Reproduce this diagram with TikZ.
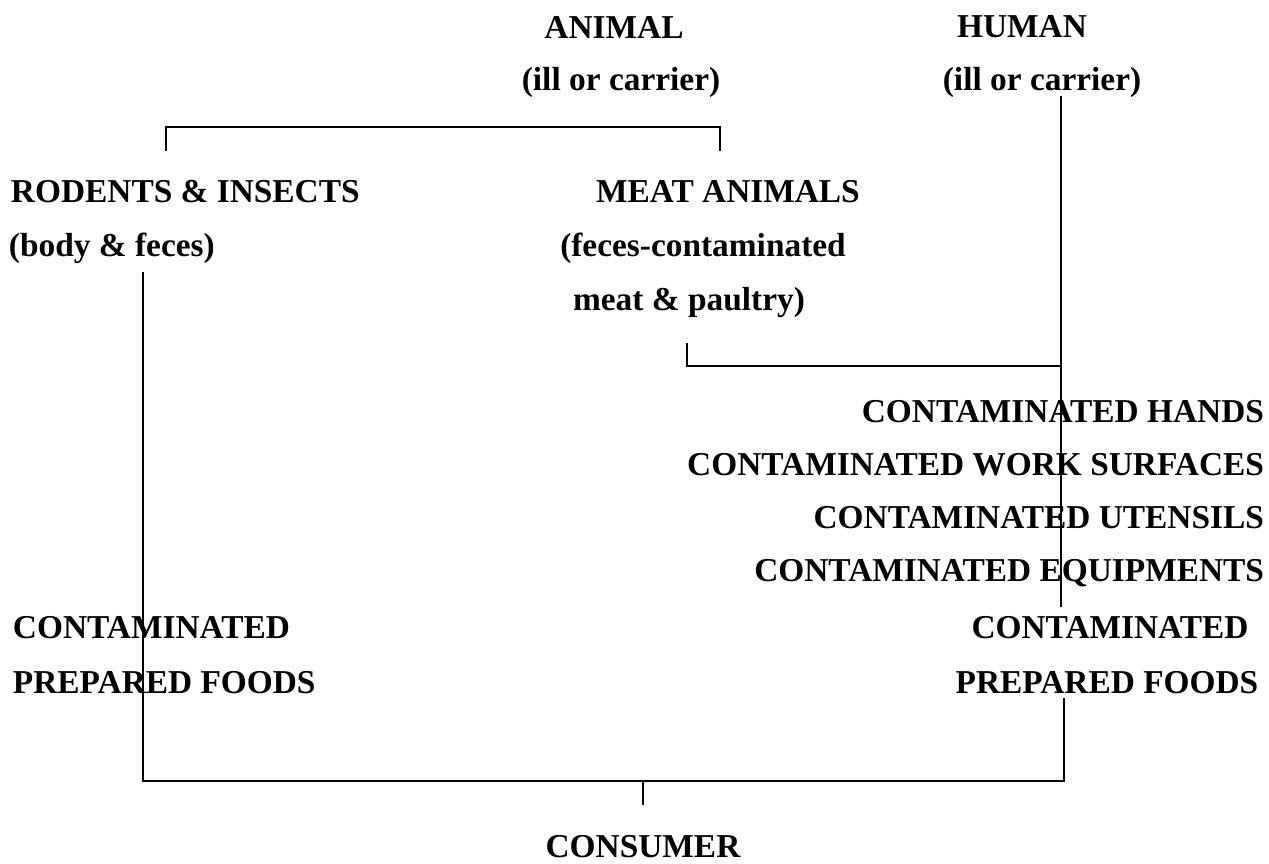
\documentclass[tikz,border=0pt]{standalone}
\usepackage{fontspec}
\setmainfont{Liberation Serif}

\begin{document}
\begin{tikzpicture}[x=0.02cm, y=-0.02cm, line width=1.1pt,
	lbl/.style={inner sep=0pt, font=\fontsize{19}{23}\selectfont\bfseries}]
		\useasboundingbox (0,0) rectangle (1269,863);
		%sources
		\node[lbl] (animal) at (614,27) {ANIMAL};
		\node[lbl] (animalill) at (621,82) {(ill or carrier)};
		\node[lbl] (human) at (1022,27) {HUMAN};
		\node[lbl] (humanill) at (1042,82) {(ill or carrier)};
		%animal branches
		\node[lbl, anchor=west] (rodents) at (10,192) {RODENTS \& INSECTS};
		\node[lbl, anchor=west] (bodyfeces) at (8,248) {(body \& feces)};
		\node[lbl] (meat) at (728,192) {MEAT ANIMALS};
		\node[lbl] (fecesmeat) at (703,248) {(feces-contaminated};
		\node[lbl] (poultry) at (689,303) {meat \& paultry)};
		%contaminated things
		\node[lbl, anchor=east] (hands) at (1265,412) {CONTAMINATED HANDS};
		\node[lbl, anchor=east] (surfaces) at (1265,465) {CONTAMINATED WORK SURFACES};
		\node[lbl, anchor=east] (utensils) at (1265,518) {CONTAMINATED UTENSILS};
		\node[lbl, anchor=east] (equip) at (1265,573) {CONTAMINATED EQUIPMENTS};
		\node[lbl] (prepR) at (1110,628) {CONTAMINATED};
		\node[lbl] (prepRb) at (1107,683) {PREPARED FOODS};
		\node[lbl, anchor=west] (prepL) at (12,628) {CONTAMINATED};
		\node[lbl, anchor=west] (prepLb) at (12,683) {PREPARED FOODS};
		\node[lbl] (consumer) at (643,847) {CONSUMER};
		%line ends
		\coordinate (brL) at (166,151); \coordinate (brR) at (720,151);
		\coordinate (rodL) at (143,272); \coordinate (conR) at (1064,698);
		\coordinate (humT) at (1061,96); \coordinate (humB) at (1061,607);
		\coordinate (meatB) at (687,343);
		\coordinate (cons) at (643,805);
		%lines
		\draw (brL) -- (166,127) -- (720,127) -- (brR);
		\draw (humT) -- (humB);
		\draw (meatB) |- (1061,366);
		\draw (rodL) |- (conR |- 0,781) -- (conR);
		\draw (cons) -- (643,781);
\end{tikzpicture}
\end{document}
